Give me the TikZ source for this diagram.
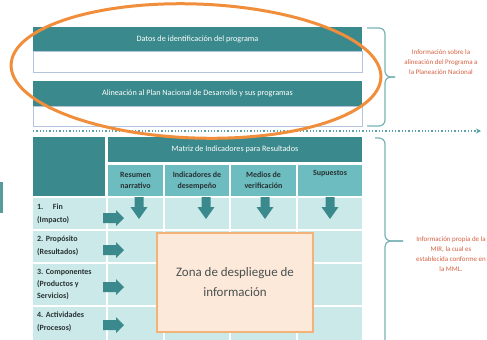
\documentclass[tikz,border=0pt]{standalone}
\usepackage{fontspec}
\setmainfont{Carlito}
\usetikzlibrary{arrows.meta,calc}
\definecolor{tealD}{RGB}{58,137,140}
\definecolor{tealM}{RGB}{108,188,192}
\definecolor{tealL}{RGB}{203,233,233}
\definecolor{boxline}{RGB}{180,196,222}
\definecolor{orangeE}{RGB}{240,142,60}
\definecolor{zfill}{RGB}{253,233,218}
\definecolor{zline}{RGB}{243,178,120}
\definecolor{redT}{RGB}{212,96,66}
\definecolor{braceC}{RGB}{120,178,180}
\definecolor{dotC}{RGB}{90,160,165}
\definecolor{txtD}{RGB}{40,50,50}
\begin{document}
\begin{tikzpicture}[x=1bp,y=-1bp,
  cell/.style={rectangle, anchor=north west, inner sep=0pt, outer sep=0pt},
  hdr/.style={cell, fill=tealD, text=white, font=\fontsize{8.2}{9}\selectfont},
  body/.style={cell, fill=white, draw=boxline, line width=1bp},
  sub/.style={cell, fill=tealM, text=txtD, font=\bfseries\fontsize{8}{11}\selectfont, align=center},
  rowc/.style={cell, fill=tealL},
  lbl/.style={anchor=west, inner sep=0pt, text=txtD, font=\bfseries\fontsize{8}{12.5}\selectfont, align=left},
  note/.style={text=redT, font=\fontsize{7}{10}\selectfont, align=center, inner sep=0pt},
  bracec/.style={draw=braceC, line width=1.2bp, rounded corners=6bp},
  arrowfill/.style={fill=tealD},
  rarr/.pic={\fill[arrowfill] (0,-5) -- (13,-5) -- (13,-8) -- (21,0) -- (13,8) -- (13,5) -- (0,5) -- cycle;},
  darr/.pic={\fill[arrowfill] (-4.5,0) -- (4.5,0) -- (4.5,10) -- (8.5,10) -- (0,22) -- (-8.5,10) -- (-4.5,10) -- cycle;},
]
\useasboundingbox (0,0) rectangle (487,339);

% left small bar
\node[cell, fill=tealD!85, minimum width=3bp, minimum height=31bp] (lbar) at (0,182) {};

% top boxes
\node[body, minimum width=329bp, minimum height=21bp] (body1) at (33,51) {};
\node[hdr, minimum width=329bp, minimum height=24bp] (hdr1) at (33,27) {Datos de identificación del programa};
\node[body, minimum width=329bp, minimum height=20bp] (body2) at (33,106) {};
\node[hdr, minimum width=329bp, minimum height=25bp] (hdr2) at (33,81) {Alineación al Plan Nacional de Desarrollo y sus programas};

% dotted separator
\coordinate (dstart) at (33,131);
\coordinate (dend) at (481,131);
\draw[dotC, dotted, line width=1.3bp, -{Stealth[length=5bp,width=5bp]}] (dstart) -- (dend);

% matrix header
\node[cell, fill=tealD, minimum width=72bp, minimum height=59bp] (corner) at (33,137) {};
\node[hdr, minimum width=254bp, minimum height=25bp] (mir) at (108,137) {Matriz de Indicadores para Resultados};
\node[sub, minimum width=55bp, minimum height=31bp] (s1) at (108,165) {Resumen\\narrativo};
\node[sub, minimum width=64bp, minimum height=31bp] (s2) at (165,165) {Indicadores de\\desempeño};
\node[sub, minimum width=65bp, minimum height=31bp] (s3) at (231,165) {Medios de\\verificación};
\node[sub, minimum width=64bp, minimum height=31bp] (s4) at (298,165) {Supuestos\\\strut};

% rows
\foreach \yy/\hh [count=\i] in {198/31, 231/31, 264/41, 307/40} {
  \foreach \xx/\ww [count=\j from 0] in {33/73, 108/55, 165/64, 231/65, 298/64} {
    \node[rowc, minimum width=\ww bp, minimum height=\hh bp] (r\i-\j) at (\xx,\yy) {};
  }
}

% row labels
\node[lbl] (l1) at (37,214) {1.\hspace{1.2em}Fin\\(Impacto)};
\node[lbl] (l2) at (37,246) {2. Propósito\\(Resultados)};
\node[lbl] (l3) at (37,284.5) {3. Componentes\\(Productos y\\Servicios)};
\node[lbl] (l4) at (37,322) {4. Actividades\\(Procesos)};

% arrows
\pic at (103,218) {rarr};
\pic at (103,250) {rarr};
\pic at (103,287) {rarr};
\pic at (103,325) {rarr};
\pic at (139,197) {darr};
\pic at (206,197) {darr};
\pic at (265,197) {darr};
\pic at (330,197) {darr};

% display zone
\node[cell, fill=zfill, draw=zline, line width=1.5bp, minimum width=156bp, minimum height=99bp,
      align=center, text=txtD!85, font=\fontsize{13}{20}\selectfont] (zona) at (157,233)
      {Zona de despliegue de\\información};

% orange ellipse
\draw[orangeE, line width=3bp, rotate around={-2:(196,71)}] (196,71) ellipse [x radius=185, y radius=67];

% braces
\coordinate (b1top) at (367,28);
\coordinate (b1bot) at (367,126);
\coordinate (b1tip) at (395,77);
\draw[bracec] (b1top) -- (385,28) -- (385,77) -- (b1tip);
\draw[bracec] (b1bot) -- (385,126) -- (385,77) -- (b1tip);
\coordinate (b2top) at (375,138);
\coordinate (b2bot) at (385,345);
\coordinate (b2tip) at (403,241);
\draw[bracec] (b2top) -- (385,138) -- (385,241) -- (b2tip);
\draw[bracec] (b2bot) -- (385,241) -- (b2tip);

% notes
\node[note] (n1) at (441,62) {Información sobre la\\alineación del Programa a\\la Planeación Nacional};
\node[note] (n2) at (451,254) {Información propia de la\\MIR, la cual es\\establecida conforme en\\la MML.};
\end{tikzpicture}
\end{document}
